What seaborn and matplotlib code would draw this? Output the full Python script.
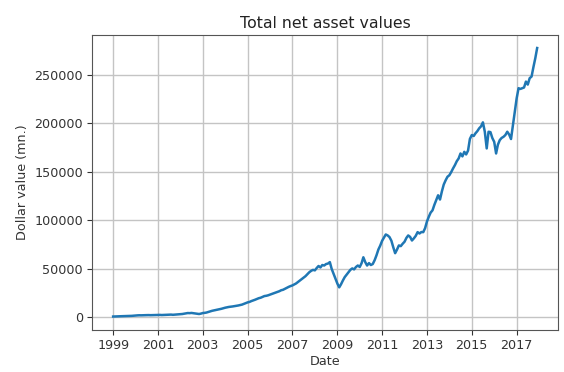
import numpy as np
import pandas as pd
import matplotlib
matplotlib.use('Agg')
import matplotlib.pyplot as plt
import seaborn as sns

# monthly total net asset values, $ mn., Jan 1999 - Dec 2017
nav_1999_2003 = [
    900, 1000, 1050, 1150, 1200, 1250, 1300, 1350, 1400, 1450, 1600, 1800,
    2000, 2100, 2200, 2150, 2250, 2300, 2350, 2400, 2300, 2350, 2400, 2450,
    2500, 2600, 2450, 2550, 2700, 2800, 2750, 2900, 2700, 2850, 3000, 3100,
    3300, 3500, 3800, 4200, 4500, 4400, 4600, 4300, 4000, 3800, 3500, 3900,
    4500, 4700, 5000, 5600, 6200, 6800, 7200, 7500, 8000, 8400, 8900, 9500,
]
nav_2004_2008 = [
    10000, 10400, 10800, 11000, 11300, 11600, 12000, 12300, 12800, 13200, 14000, 14800,
    15500, 16000, 16800, 17500, 18200, 19000, 19800, 20300, 21200, 22000, 22300, 22800,
    23500, 24200, 24900, 25600, 26300, 27000, 28000, 28500, 29500, 30500, 31500, 32300,
    33000, 34000, 35000, 36500, 38000, 39500, 41000, 42500, 44500, 46500, 48000, 49000,
    48500, 51000, 53000, 51500, 54000, 53500, 55000, 55500, 57000, 50000, 45000, 40000,
]
nav_2009_2013 = [
    35000, 31000, 34000, 38000, 41500, 44000, 46500, 49000, 50500, 49500, 52000, 53500,
    52000, 56000, 62000, 57000, 53500, 56000, 54000, 55000, 59000, 64000, 70000, 74000,
    79000, 82500, 85500, 84500, 82800, 79000, 72400, 66200, 70000, 74200, 73500, 75900,
    78000, 82000, 84500, 83000, 79300, 81500, 84000, 87900, 86500, 88000, 87900, 92000,
    99000, 104000, 108000, 110400, 116000, 121000, 125900, 121500, 130000, 137000, 141400, 145000,
]
nav_2014_2017 = [
    146600, 150000, 153500, 157000, 161000, 163900, 169000, 166000, 170700, 168000, 172000, 184000,
    188000, 187000, 189700, 192000, 194900, 197000, 201100, 191400, 174200, 191400, 191000, 185000,
    181000, 169000, 178000, 182800, 185000, 186200, 188000, 191400, 188500, 183900, 198300, 212100,
    225900, 236300, 235500, 236300, 237000, 243100, 240000, 246600, 248300, 258000, 267300, 277700,
]
tick_years = ['1999', '2001', '2003', '2005', '2007', '2009', '2011', '2013', '2015', '2017']

values = nav_1999_2003 + nav_2004_2008 + nav_2009_2013 + nav_2014_2017
dates = pd.date_range('1999-01-01', periods=len(values), freq='MS')
df = pd.DataFrame({'Date': dates, 'nav': values})

plt.rcParams['font.family'] = ['DejaVu Sans']
fig, ax = plt.subplots(figsize=(5.64, 3.72), dpi=100)
fig.subplots_adjust(left=0.163, right=0.99, bottom=0.113, top=0.907)

sns.lineplot(x='Date', y='nav', data=df, ax=ax, color='#1f77b4', linewidth=1.8)

ax.set_xticks(pd.to_datetime(tick_years))
ax.set_xticklabels(tick_years)
ax.grid(True, color='#c4c4c4', linewidth=1.0)
ax.set_axisbelow(True)
for s in ax.spines.values():
    s.set_color('#555555')
ax.tick_params(labelsize=9.2, colors='#333333', length=3.5, pad=3)
ax.set_xlabel('Date', fontsize=9.2, color='#333333', labelpad=2)
ax.set_ylabel('Dollar value (mn.)', fontsize=9.2, color='#333333', labelpad=4)
ax.set_title('Total net asset values', fontsize=11.3, color='#222222', pad=5)

plt.savefig('out.png', dpi=100)
